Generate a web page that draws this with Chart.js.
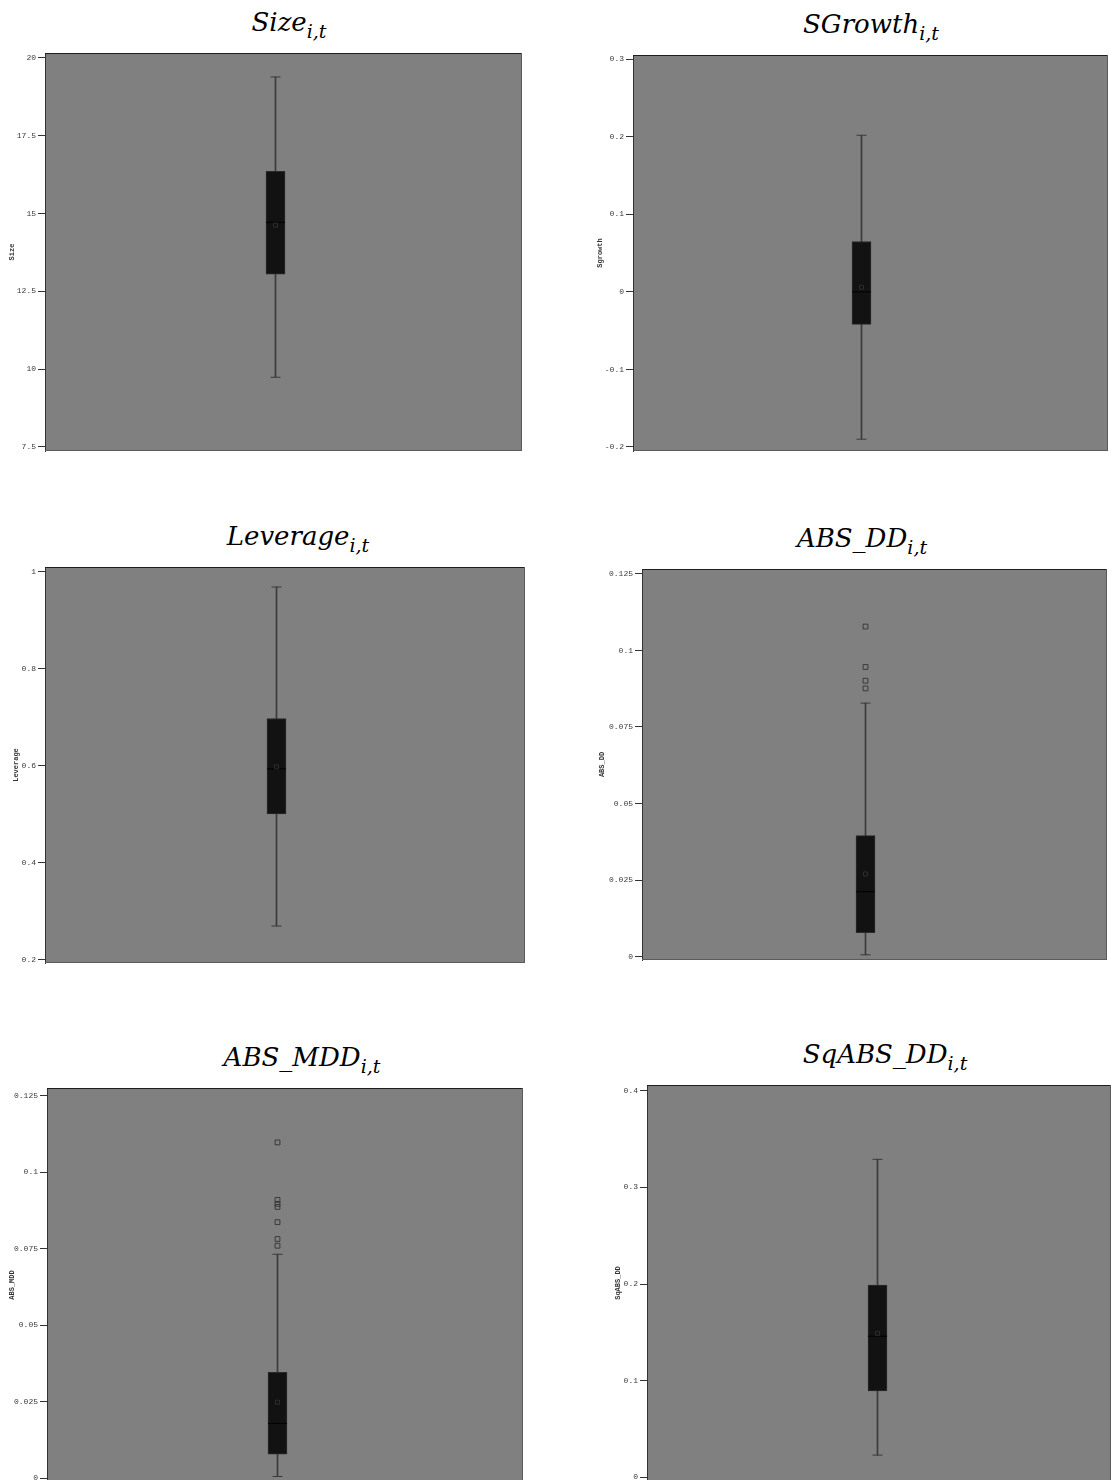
<!DOCTYPE html>
<html>
<head>
<meta charset="utf-8">
<script src="https://cdn.jsdelivr.net/npm/chart.js@4"></script>
<style>
  html, body { margin: 0; padding: 0; background: #fff; }
  body { width: 1113px; height: 1480px; position: relative; overflow: hidden; }
  .panel { position: absolute; }
  .ttl { position: absolute; font-family: "DejaVu Serif", serif; font-style: italic; font-size: 26px; line-height: 26px; color: #000; white-space: nowrap; transform: translateX(-50%); }
  .ttl sub { font-size: 19px; vertical-align: -7px; line-height: 0; }
</style>
</head>
<body>
<script>
// variables, one box plot each
const varNames = ['Size', 'Sgrowth', 'Leverage', 'ABS_DD', 'ABS_MDD', 'SqABS_DD'];
const titleNames = ['Size', 'SGrowth', 'Leverage', 'ABS_DD', 'ABS_MDD', 'SqABS_DD'];

// five-number summaries + mean
const whiskerLow  = [9.74, -0.19, 0.27, 0.0006, 0.0005, 0.023];
const q1Values    = [13.05, -0.042, 0.501, 0.0078, 0.0078, 0.0893];
const medianVals  = [14.72, 0.0, 0.594, 0.0212, 0.0179, 0.146];
const meanVals    = [14.63, 0.006, 0.598, 0.027, 0.0248, 0.149];
const q3Values    = [16.36, 0.065, 0.698, 0.0395, 0.0346, 0.199];
const whiskerHigh = [19.39, 0.202, 0.969, 0.0828, 0.0732, 0.329];
const outlierVals = [
  [],
  [],
  [],
  [0.0876, 0.0901, 0.0946, 0.1078],
  [0.0760, 0.0782, 0.0837, 0.0887, 0.0897, 0.0910, 0.1098],
  []
];

// y axes
const tickValues = [
  [7.5, 10, 12.5, 15, 17.5, 20],
  [-0.2, -0.1, 0, 0.1, 0.2, 0.3],
  [0.2, 0.4, 0.6, 0.8, 1],
  [0, 0.025, 0.05, 0.075, 0.1, 0.125],
  [0, 0.025, 0.05, 0.075, 0.1, 0.125],
  [0, 0.1, 0.2, 0.3, 0.4]
];
const axisMin = [7.37, -0.2052, 0.1938, -0.0011, -0.0013, -0.0038];
const axisMax = [20.16, 0.3055, 1.0103, 0.1266, 0.1276, 0.4059];

// page layout (pixels)
const layout = [
  { col: 0,   w: 540, l: 45,  t: 53,   r: 522,  b: 451,  cx: 275, titleX: 289, labelX: 12 },
  { col: 590, w: 523, l: 633, t: 55,   r: 1108, b: 451,  cx: 861, titleX: 871, labelX: 10 },
  { col: 0,   w: 540, l: 45,  t: 567,  r: 525,  b: 963,  cx: 276, titleX: 298, labelX: 16 },
  { col: 590, w: 523, l: 642, t: 569,  r: 1107, b: 960,  cx: 865, titleX: 862, labelX: 12 },
  { col: 0,   w: 540, l: 47,  t: 1088, r: 523,  b: 1482, cx: 277, titleX: 302, labelX: 12 },
  { col: 590, w: 523, l: 647, t: 1085, r: 1111, b: 1481, cx: 877, titleX: 885, labelX: 28 }
];

// gray plot background + frame, stretched to the real right edge
const framePlugin = {
  id: 'frame',
  beforeDraw(chart, args, opts) {
    const a = chart.chartArea;
    const ctx = chart.ctx;
    ctx.save();
    ctx.fillStyle = '#808080';
    ctx.fillRect(a.left, a.top, opts.right - a.left, a.bottom - a.top);
    ctx.restore();
  },
  afterDraw(chart, args, opts) {
    const a = chart.chartArea;
    const ctx = chart.ctx;
    ctx.save();
    ctx.lineWidth = 1;
    ctx.strokeStyle = '#1e1e1e';
    ctx.beginPath();
    ctx.moveTo(a.left, a.top + 0.5);
    ctx.lineTo(opts.right, a.top + 0.5);
    ctx.stroke();
    ctx.strokeStyle = '#5a5a5a';
    ctx.beginPath();
    ctx.moveTo(a.left, a.bottom - 0.5);
    ctx.lineTo(opts.right, a.bottom - 0.5);
    ctx.moveTo(opts.right - 0.5, a.top);
    ctx.lineTo(opts.right - 0.5, a.bottom);
    ctx.stroke();
    ctx.restore();
  }
};

const pts = (arr) => arr.map(v => ({ x: 'v', y: v }));

varNames.forEach((name, i) => {
  const p = layout[i];

  const title = document.createElement('div');
  title.className = 'ttl';
  title.style.left = p.titleX + 'px';
  title.style.top = (p.t - 44) + 'px';
  title.innerHTML = titleNames[i] + '<sub>i,t</sub>';
  document.body.appendChild(title);

  const div = document.createElement('div');
  div.className = 'panel';
  const h = p.b - p.t + 12;
  div.style.left = p.col + 'px';
  div.style.top = (p.t - 6) + 'px';
  div.style.width = p.w + 'px';
  div.style.height = h + 'px';
  const canvas = document.createElement('canvas');
  div.appendChild(canvas);
  document.body.appendChild(div);

  const chartRight = 2 * p.cx + 1 - p.l;   // box centred at cx + 0.5

  new Chart(canvas.getContext('2d'), {
    type: 'bar',
    data: {
      labels: ['v'],
      datasets: [
        { type: 'line', data: pts(outlierVals[i]), showLine: false, pointStyle: 'rect', pointRadius: 3.4,
          pointBorderColor: '#3a3a3a', pointBackgroundColor: 'rgba(0,0,0,0)', pointBorderWidth: 1, order: 0 },
        { type: 'line', data: pts([meanVals[i]]), showLine: false, pointStyle: 'rect', pointRadius: 2.8,
          pointBorderColor: '#2e2e2e', pointBackgroundColor: 'rgba(0,0,0,0)', pointBorderWidth: 1, order: 1 },
        { type: 'line', data: pts([medianVals[i]]), showLine: false, pointStyle: 'line', pointRadius: 9.5,
          pointBorderColor: '#000', pointBorderWidth: 1, order: 2 },
        { type: 'line', data: pts([whiskerLow[i], whiskerHigh[i]]), showLine: false, pointStyle: 'line', pointRadius: 5,
          pointBorderColor: '#3a3a3a', pointBorderWidth: 1, order: 3 },
        { data: [[q1Values[i], q3Values[i]]], backgroundColor: '#121212', borderColor: '#2a2a2a', borderWidth: 1,
          borderSkipped: false, barThickness: 19, grouped: false, order: 4 },
        { data: [[whiskerLow[i], whiskerHigh[i]]], backgroundColor: '#3a3a3a', borderWidth: 0,
          barThickness: 1, grouped: false, order: 5 }
      ]
    },
    options: {
      responsive: true,
      maintainAspectRatio: false,
      animation: false,
      events: [],
      layout: { autoPadding: false, padding: { top: 6, bottom: 6, left: 0, right: p.col + p.w - chartRight } },
      plugins: {
        legend: { display: false },
        tooltip: { enabled: false },
        frame: { right: p.r - p.col }
      },
      scales: {
        x: { display: false },
        y: {
          min: axisMin[i],
          max: axisMax[i],
          afterFit(scale) {
            scale.width = p.l - p.col;
            scale.paddingTop = 0;
            scale.paddingBottom = 0;
          },
          afterBuildTicks(scale) { scale.ticks = tickValues[i].map(v => ({ value: v })); },
          border: { display: true, color: '#333', width: 1 },
          grid: { drawOnChartArea: false, drawTicks: true, tickLength: 7, color: '#333' },
          ticks: {
            padding: 2,
            color: '#3a3a3a',
            font: { family: 'Liberation Mono', size: 8 },
            callback: v => String(v)
          },
          title: {
            display: true,
            text: name,
            color: '#333',
            font: { family: 'Liberation Mono', size: 7, weight: 'bold' },
            padding: { top: p.labelX - 4.2, bottom: 0 }
          }
        }
      }
    },
    plugins: [framePlugin]
  });
});
</script>
</body>
</html>
